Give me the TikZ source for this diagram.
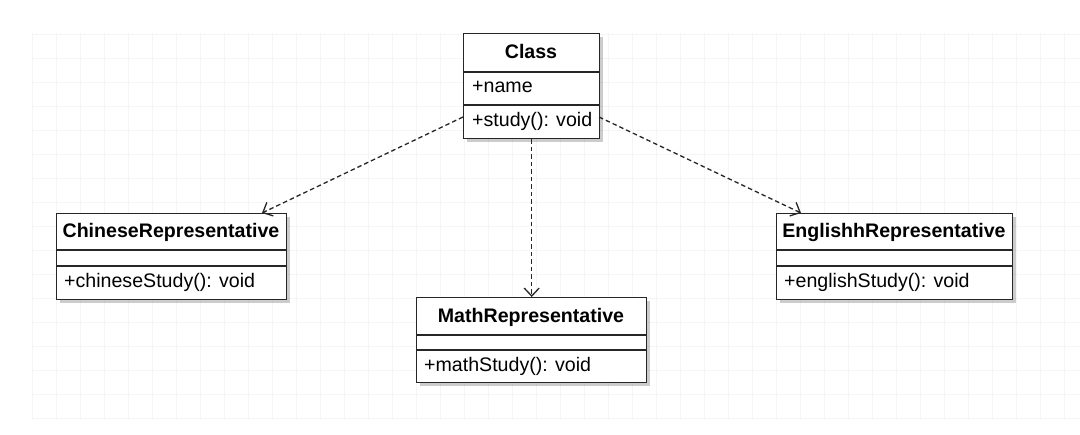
\documentclass[tikz,border=0pt]{standalone}
\usepackage{fontspec}
\setmainfont{Liberation Sans}
\usetikzlibrary{arrows.meta,shadows}
\begin{document}
\begin{tikzpicture}[x=1pt,y=-1pt,
  gridline/.style={draw=black!4,line width=0.8pt},
  umlbox/.style={draw=black!85,line width=1.4pt,fill=white,anchor=north west,inner sep=0pt,
    drop shadow={shadow xshift=3pt,shadow yshift=-3pt,opacity=0.2,fill=black}},
  sep/.style={draw=black!85,line width=1.4pt},
  hdr/.style={font=\fontsize{19.6}{22}\selectfont\bfseries,anchor=base,inner sep=0pt},
  row/.style={font=\fontsize{19.6}{22}\selectfont,anchor=base west,inner sep=0pt},
  dep/.style={draw=black!85,line width=1.3pt,dash pattern=on 4.5pt off 3pt,
    -{Straight Barb[length=8pt,width=15pt,line width=1.3pt]}}
]
\useasboundingbox (0,0) rectangle (1080,435);
\fill[white] (0,0) rectangle (1080,435);
% faint background grid
\foreach \gx in {32,56,...,1080} \draw[gridline] (\gx,33) -- (\gx,420);
\foreach \gy in {34,58,...,418} \draw[gridline] (32,\gy) -- (1080,\gy);

% Class
\node[umlbox,minimum width=136pt,minimum height=105pt] (cls) at (463,33) {};
\draw[sep] (463,72) -- (599,72);
\draw[sep] (463,105) -- (599,105);
\node[hdr] (clsT) at (531,59) {Class};
\node[row] (clsA) at (472,93) {+name};
\node[row] (clsM) at (472,127) {+study(): void};

% ChineseRepresentative
\node[umlbox,minimum width=230pt,minimum height=86pt] (chi) at (56,213) {};
\draw[sep] (56,250) -- (286,250);
\draw[sep] (56,266) -- (286,266);
\node[hdr] (chiT) at (171,238) {ChineseRepresentative};
\node[row] (chiM) at (64,288) {+chineseStudy(): void};

% MathRepresentative
\node[umlbox,minimum width=230pt,minimum height=85pt] (mat) at (416,297) {};
\draw[sep] (416,335) -- (646,335);
\draw[sep] (416,350) -- (646,350);
\node[hdr] (matT) at (531,323) {MathRepresentative};
\node[row] (matM) at (424,372) {+mathStudy(): void};

% EnglishhRepresentative
\node[umlbox,minimum width=236pt,minimum height=86pt] (eng) at (776,213) {};
\draw[sep] (776,250) -- (1012,250);
\draw[sep] (776,266) -- (1012,266);
\node[hdr] (engT) at (894,238) {EnglishhRepresentative};
\node[row] (engM) at (784,288) {+englishStudy(): void};

% connector end points
\coordinate (clsL) at (463,117);
\coordinate (clsR) at (599,117);
\coordinate (chiTop) at (262,213);
\coordinate (engTop) at (801,213);

\draw[dep] (clsL) -- (chiTop);
\draw[dep] (cls.south) -- (mat.north);
\draw[dep] (clsR) -- (engTop);
\end{tikzpicture}
\end{document}
